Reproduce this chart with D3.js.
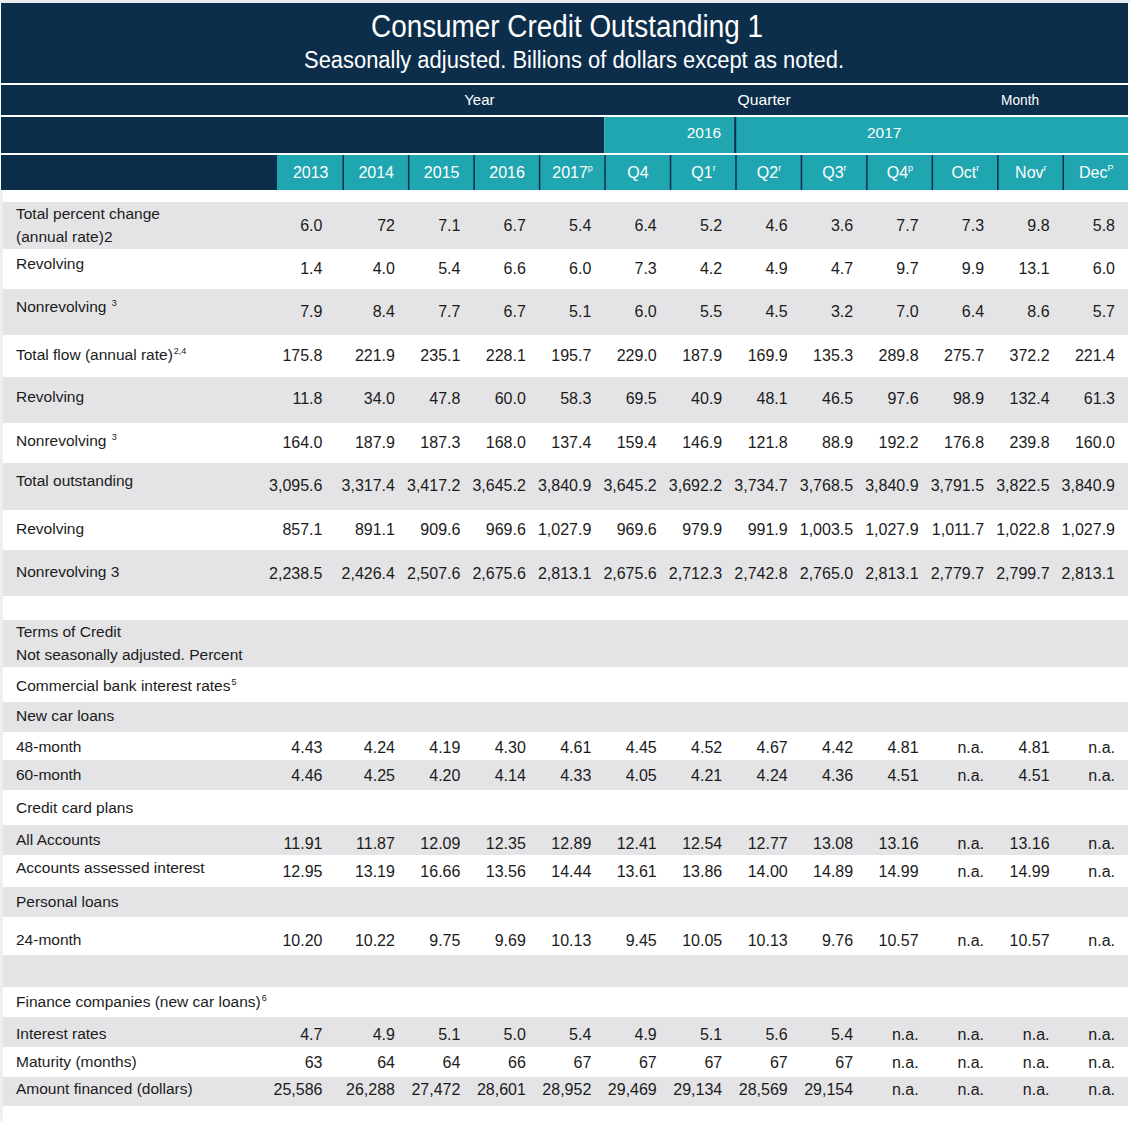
<!DOCTYPE html>
<html>
<head>
<meta charset="utf-8">
<script src="https://cdn.jsdelivr.net/npm/d3@7"></script>
<style>
  html, body { margin: 0; padding: 0; background: #ffffff; }
  svg text { font-family: "Liberation Sans", Arial, Helvetica, sans-serif; }
</style>
</head>
<body>
<svg id="chart" width="1130" height="1121"></svg>
<script>
// ---------------- DATA ----------------
const title = "Consumer Credit Outstanding 1";
const subtitle = "Seasonally adjusted. Billions of dollars except as noted.";
const periodGroups = ["Year", "Quarter", "Month"];
const yearGroups = ["2016", "2017"];
const columns = ["2013", "2014", "2015", "2016", "2017", "Q4", "Q1", "Q2", "Q3", "Q4", "Oct", "Nov", "Dec"];
const columnMarks = ["", "", "", "", "p", "", "r", "r", "r", "p", "r", "r", "P"];

const totalPctChange        = ["6.0", "72", "7.1", "6.7", "5.4", "6.4", "5.2", "4.6", "3.6", "7.7", "7.3", "9.8", "5.8"];
const revolvingPct          = ["1.4", "4.0", "5.4", "6.6", "6.0", "7.3", "4.2", "4.9", "4.7", "9.7", "9.9", "13.1", "6.0"];
const nonrevolvingPct       = ["7.9", "8.4", "7.7", "6.7", "5.1", "6.0", "5.5", "4.5", "3.2", "7.0", "6.4", "8.6", "5.7"];
const totalFlow             = ["175.8", "221.9", "235.1", "228.1", "195.7", "229.0", "187.9", "169.9", "135.3", "289.8", "275.7", "372.2", "221.4"];
const revolvingFlow         = ["11.8", "34.0", "47.8", "60.0", "58.3", "69.5", "40.9", "48.1", "46.5", "97.6", "98.9", "132.4", "61.3"];
const nonrevolvingFlow      = ["164.0", "187.9", "187.3", "168.0", "137.4", "159.4", "146.9", "121.8", "88.9", "192.2", "176.8", "239.8", "160.0"];
const totalOutstanding      = ["3,095.6", "3,317.4", "3,417.2", "3,645.2", "3,840.9", "3,645.2", "3,692.2", "3,734.7", "3,768.5", "3,840.9", "3,791.5", "3,822.5", "3,840.9"];
const revolvingOutstanding  = ["857.1", "891.1", "909.6", "969.6", "1,027.9", "969.6", "979.9", "991.9", "1,003.5", "1,027.9", "1,011.7", "1,022.8", "1,027.9"];
const nonrevolvingOutstanding = ["2,238.5", "2,426.4", "2,507.6", "2,675.6", "2,813.1", "2,675.6", "2,712.3", "2,742.8", "2,765.0", "2,813.1", "2,779.7", "2,799.7", "2,813.1"];
const newCar48              = ["4.43", "4.24", "4.19", "4.30", "4.61", "4.45", "4.52", "4.67", "4.42", "4.81", "n.a.", "4.81", "n.a."];
const newCar60              = ["4.46", "4.25", "4.20", "4.14", "4.33", "4.05", "4.21", "4.24", "4.36", "4.51", "n.a.", "4.51", "n.a."];
const ccAllAccounts         = ["11.91", "11.87", "12.09", "12.35", "12.89", "12.41", "12.54", "12.77", "13.08", "13.16", "n.a.", "13.16", "n.a."];
const ccAssessed            = ["12.95", "13.19", "16.66", "13.56", "14.44", "13.61", "13.86", "14.00", "14.89", "14.99", "n.a.", "14.99", "n.a."];
const personal24            = ["10.20", "10.22", "9.75", "9.69", "10.13", "9.45", "10.05", "10.13", "9.76", "10.57", "n.a.", "10.57", "n.a."];
const financeRates          = ["4.7", "4.9", "5.1", "5.0", "5.4", "4.9", "5.1", "5.6", "5.4", "n.a.", "n.a.", "n.a.", "n.a."];
const financeMaturity       = ["63", "64", "64", "66", "67", "67", "67", "67", "67", "n.a.", "n.a.", "n.a.", "n.a."];
const financeAmount         = ["25,586", "26,288", "27,472", "28,601", "28,952", "29,469", "29,134", "28,569", "29,154", "n.a.", "n.a.", "n.a.", "n.a."];

// row labels: each row = list of lines, each line = [text, superscript]
const rowLabels = [
  [["Total percent change", ""], ["(annual rate)2", ""]],
  [["Revolving", ""]],
  [["Nonrevolving ", "3"]],
  [["Total flow (annual rate)", "2,4"]],
  [["Revolving", ""]],
  [["Nonrevolving ", "3"]],
  [["Total outstanding", ""]],
  [["Revolving", ""]],
  [["Nonrevolving 3", ""]],
  [],
  [["Terms of Credit", ""], ["Not seasonally adjusted. Percent", ""]],
  [["Commercial bank interest rates", "5"]],
  [["New car loans", ""]],
  [["48-month", ""]],
  [["60-month", ""]],
  [["Credit card plans", ""]],
  [["All Accounts", ""]],
  [["Accounts assessed interest", ""]],
  [["Personal loans", ""]],
  [["24-month", ""]],
  [],
  [["Finance companies (new car loans)", "6"]],
  [["Interest rates", ""]],
  [["Maturity (months)", ""]],
  [["Amount financed (dollars)", ""]]
];
const rowValues = [
  totalPctChange, revolvingPct, nonrevolvingPct,
  totalFlow, revolvingFlow, nonrevolvingFlow,
  totalOutstanding, revolvingOutstanding, nonrevolvingOutstanding,
  null, null, null, null,
  newCar48, newCar60, null,
  ccAllAccounts, ccAssessed, null,
  personal24, null, null,
  financeRates, financeMaturity, financeAmount
];

// ---------------- LAYOUT ----------------
const W = 1130, H = 1121;
const navy = "#0d2e4b", teal = "#20a6b0", band = "#e4e4e6", ink = "#1b1b1b";
const rowHeights  = [47, 40, 46, 42, 46, 40, 47, 40, 46, 24, 47, 35, 30, 28, 30, 35, 30, 32, 30, 38, 32, 30, 30, 30, 29];
const labelShift  = [0, -5, -5, -1, -3, -2, -5.5, -1, -1, 0, 0, 1.5, -1, 1, 0, 0.5, 0, -3, 0, 4, 0, 0, 2, 0, -2.5];
const valueShift  = [-0.5, -1, -1, -1, -2, -1, -1.5, -1, 0, 0, 0, 0, 0, 1, 0, 0, 3, 0, 0, 4, 0, 0, 2, 0, -2.5];
const bodyTop = 202;
const lineGap = 23;

const svg = d3.select("#chart");
const x = d3.scaleBand().domain(d3.range(columns.length)).range([277, 1128]).padding(0);
const bw = x.bandwidth();

// cumulative row positions
const rowTops = d3.cumsum([0].concat(rowHeights)).map(v => v + bodyTop);

svg.append("rect").attr("x", 0).attr("y", 0).attr("width", W).attr("height", H).attr("fill", "#ffffff");
svg.append("rect").attr("x", 0).attr("y", 0).attr("width", W).attr("height", 3).attr("fill", "#e9ecef");
svg.append("rect").attr("x", 0).attr("y", 190).attr("width", 3).attr("height", H - 190).attr("fill", "#efefef");

// ---------- header ----------
svg.append("rect").attr("x", 1).attr("y", 3).attr("width", 1127).attr("height", 80).attr("fill", navy);
svg.append("text").attr("x", 567).attr("y", 37).attr("text-anchor", "middle")
  .attr("fill", "#fff").attr("font-size", 31).attr("textLength", 392).attr("lengthAdjust", "spacingAndGlyphs")
  .text(title);
svg.append("text").attr("x", 574).attr("y", 68).attr("text-anchor", "middle")
  .attr("fill", "#fff").attr("font-size", 23).attr("textLength", 540).attr("lengthAdjust", "spacingAndGlyphs")
  .text(subtitle);

// period row
svg.append("rect").attr("x", 1).attr("y", 85).attr("width", 1127).attr("height", 30).attr("fill", navy);
const periodX = [x(3) + 6, x(7) + 29, x(11) + 23];
svg.selectAll("text.period").data(periodGroups).join("text").attr("class", "period")
  .attr("x", (d, i) => periodX[i]).attr("y", 100).attr("dy", "0.35em").attr("text-anchor", "middle")
  .attr("fill", "#fff").attr("font-size", 15).attr("textLength", (d) => d.length * 7.6).attr("lengthAdjust", "spacingAndGlyphs")
  .text(d => d);

// year row
svg.append("rect").attr("x", 1).attr("y", 117).attr("width", x(5) - 1).attr("height", 36).attr("fill", navy);
svg.append("rect").attr("x", x(5)).attr("y", 117).attr("width", 1128 - x(5)).attr("height", 36).attr("fill", teal);
svg.append("rect").attr("x", x(7) - 1).attr("y", 117).attr("width", 2).attr("height", 36).attr("fill", navy);
const yearX = [x(6) + bw - 14, x(9) + 18];
const yearAnchor = ["end", "middle"];
svg.selectAll("text.yr").data(yearGroups).join("text").attr("class", "yr")
  .attr("x", (d, i) => yearX[i]).attr("y", 133).attr("dy", "0.35em").attr("text-anchor", (d, i) => yearAnchor[i])
  .attr("fill", "#fff").attr("font-size", 15.5).text(d => d);

// column header row
svg.append("rect").attr("x", 1).attr("y", 155).attr("width", 1127).attr("height", 35).attr("fill", navy);
svg.selectAll("rect.colcell").data(columns).join("rect").attr("class", "colcell")
  .attr("x", (d, i) => x(i) + (i === 0 ? 0 : 1.5)).attr("y", 155)
  .attr("width", (d, i) => bw - (i === 0 ? 0 : 1.5)).attr("height", 35).attr("fill", teal);
const colText = svg.selectAll("text.col").data(columns).join("text").attr("class", "col")
  .attr("x", (d, i) => x(i) + bw / 2 + 1).attr("y", 172).attr("dy", "0.35em").attr("text-anchor", "middle")
  .attr("fill", "#fff").attr("font-size", 16);
colText.append("tspan").text(d => d);
colText.append("tspan").attr("font-size", 9).attr("dy", "-0.7em").text((d, i) => columnMarks[i]);

// ---------- body ----------
const rows = svg.selectAll("g.row").data(rowHeights).join("g").attr("class", "row")
  .attr("transform", (d, i) => `translate(0,${rowTops[i]})`);
rows.append("rect").attr("x", 3).attr("y", 0).attr("width", 1125).attr("height", d => d)
  .attr("fill", (d, i) => i % 2 === 0 ? band : "#ffffff");

rows.each(function (h, i) {
  const lines = rowLabels[i];
  const g = d3.select(this);
  const n = lines.length;
  lines.forEach((ln, j) => {
    const cy = h / 2 + labelShift[i] + (j - (n - 1) / 2) * lineGap;
    const t = g.append("text").attr("x", 16).attr("y", cy).attr("dy", "0.35em")
      .attr("fill", ink).attr("font-size", 15.5);
    t.append("tspan").text(ln[0]);
    if (ln[1]) t.append("tspan").attr("font-size", 9).attr("dy", "-0.75em").attr("dx", 1).text(ln[1]);
  });
  const vals = rowValues[i];
  if (vals) {
    g.selectAll("text.val").data(vals).join("text").attr("class", "val")
      .attr("x", (d, k) => x(k) + bw - (k === 0 ? 20 : 13))
      .attr("y", h / 2 + valueShift[i]).attr("dy", "0.35em")
      .attr("text-anchor", "end").attr("fill", ink).attr("font-size", 16)
      .text(d => d);
  }
});
</script>
</body>
</html>
